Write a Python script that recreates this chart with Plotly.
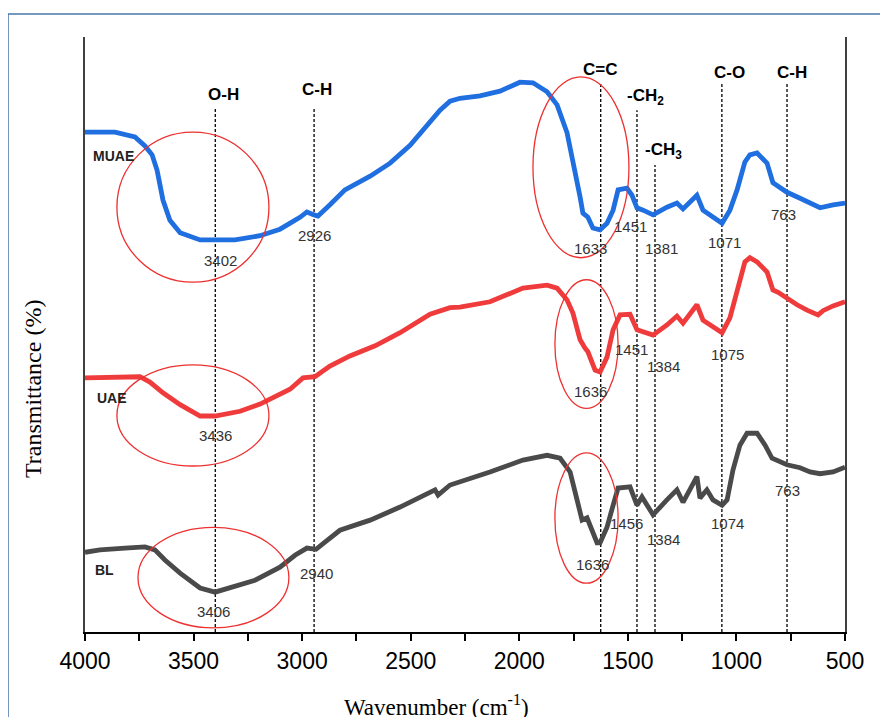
import plotly.graph_objects as go

# ---------------- data ----------------
muae_wn = [4000, 3862, 3770, 3724, 3691, 3668, 3641, 3609, 3562, 3470, 3401, 3309, 3194, 3102,
           3010, 2978, 2945, 2927, 2872, 2803, 2687, 2595, 2503, 2411, 2365, 2319, 2273, 2181,
           2089, 1997, 1937, 1872, 1826, 1780, 1753, 1720, 1707, 1684, 1661, 1628, 1596, 1568,
           1545, 1504, 1481, 1458, 1430, 1384, 1320, 1274, 1246, 1182, 1154, 1108, 1066, 1030,
           997, 961, 938, 905, 859, 832, 799, 767, 707, 615, 555, 500]
muae_t = [84.0, 84.0, 83.2, 81.7, 80.2, 77.6, 72.6, 69.2, 67.1, 65.9, 65.9, 65.9, 66.6, 67.7,
          69.7, 70.6, 70.1, 69.9, 71.8, 74.3, 76.6, 78.8, 81.8, 85.7, 87.7, 89.2, 89.7, 90.1,
          90.9, 92.4, 92.3, 90.8, 88.6, 83.9, 79.3, 73.1, 70.4, 69.7, 67.9, 67.6, 68.7, 70.9,
          74.3, 74.6, 73.4, 71.3, 70.9, 70.1, 71.4, 72.1, 71.1, 73.4, 70.9, 69.7, 68.7, 70.9,
          74.3, 79.0, 80.2, 80.5, 78.8, 75.5, 74.8, 73.9, 72.9, 71.3, 71.8, 72.1]

uae_wn = [4000, 3862, 3747, 3701, 3641, 3562, 3470, 3401, 3286, 3194, 3056, 2996, 2941, 2872,
          2780, 2664, 2549, 2411, 2319, 2273, 2135, 1983, 1872, 1826, 1780, 1753, 1720, 1697,
          1684, 1651, 1628, 1596, 1568, 1536, 1490, 1458, 1430, 1384, 1320, 1274, 1246, 1182,
          1154, 1108, 1066, 1030, 997, 961, 938, 905, 859, 832, 808, 767, 721, 675, 624, 601,
          555, 500]
uae_t = [42.7, 42.7, 42.9, 42.0, 40.2, 38.2, 36.3, 36.3, 37.1, 38.3, 40.8, 42.7, 42.9, 44.7,
         46.4, 48.1, 50.3, 53.4, 54.5, 54.6, 55.5, 57.8, 58.3, 57.8, 55.8, 53.6, 49.1, 47.7,
         47.1, 44.0, 43.7, 46.2, 50.8, 53.3, 53.4, 50.8, 50.4, 49.9, 51.6, 53.1, 51.9, 55.0,
         52.4, 51.3, 50.3, 52.8, 57.5, 62.2, 62.9, 62.2, 60.5, 57.5, 57.1, 56.0, 55.0, 54.1,
         53.3, 54.0, 54.8, 55.5]

bl_wn = [4000, 3931, 3816, 3724, 3678, 3632, 3562, 3470, 3401, 3309, 3217, 3102, 3033, 2978,
         2936, 2895, 2826, 2687, 2549, 2388, 2374, 2319, 2273, 2135, 1983, 1872, 1812, 1766,
         1734, 1711, 1688, 1665, 1642, 1628, 1596, 1568, 1545, 1490, 1458, 1435, 1407, 1384,
         1320, 1274, 1246, 1182, 1168, 1136, 1108, 1066, 1043, 1016, 984, 951, 905, 868, 836,
         813, 767, 707, 661, 615, 555, 500]
bl_t = [13.4, 13.8, 14.1, 14.3, 13.8, 12.1, 9.9, 7.4, 6.7, 7.6, 8.7, 10.9, 12.9, 14.1,
        13.9, 15.1, 17.1, 18.8, 21.0, 23.9, 23.0, 24.7, 25.2, 26.9, 28.9, 29.7, 29.2, 26.9,
        22.2, 18.8, 19.2, 17.1, 15.0, 15.0, 17.6, 21.3, 24.2, 24.4, 21.3, 22.7, 21.0, 19.7,
        22.2, 23.9, 21.8, 26.1, 22.5, 23.9, 22.2, 21.3, 22.2, 27.2, 31.4, 33.4, 33.4, 31.4, 29.2,
        28.9, 28.1, 27.6, 26.9, 26.6, 26.9, 27.7]

series_names = ["MUAE", "UAE", "BL"]
series_colors = ["#1f6fe0", "#ef3b3b", "#4a4a4a"]

# band markers: label, wavenumber of dashed line, top of line, label position
band_labels = ["O-H", "C-H", "C=C", "-CH<sub>2</sub>", "-CH<sub>3</sub>", "C-O", "C-H"]
band_wn = [3400, 2945, 1625, 1458, 1375, 1067, 767]
band_top = [88.1, 88.2, 92.3, 87.7, 78.5, 92.3, 92.4]
band_label_wn = [3360, 2932, 1628, 1421, 1338, 1030, 744]
band_label_t = [90.4, 91.1, 94.5, 89.9, 80.8, 94.1, 94.1]

# peak labels
peak_text = ["3402", "2926", "1633", "1451", "1381", "1071", "763",
             "3436", "1636", "1451", "1384", "1075",
             "3406", "2940", "1636", "1456", "1384", "1074", "763"]
peak_wn = [3378, 2945, 1670, 1490, 1343, 1057, 781,
           3397, 1674, 1481, 1334, 1043,
           3406, 2932, 1665, 1504, 1334, 1039, 763]
peak_t = [62.5, 66.6, 64.4, 68.2, 64.4, 65.5, 70.1,
          33.1, 40.5, 47.4, 44.7, 46.7,
          3.5, 9.9, 11.3, 18.2, 15.5, 18.2, 23.7]

# series name labels
name_wn = [3871, 3876, 3908]
name_t = [80.0, 39.3, 10.4]

# red highlight ellipses (wn0, wn1, t0, t1)
ell_wn0 = [3853, 1937, 3853, 1836, 3756, 1836]
ell_wn1 = [3153, 1495, 3153, 1545, 3061, 1545]
ell_t0 = [58.8, 62.9, 27.9, 37.6, 0.7, 8.2]
ell_t1 = [84.0, 93.3, 44.9, 59.2, 17.6, 30.1]

x_ticks = [4000, 3500, 3000, 2500, 2000, 1500, 1000, 500]

# ---------------- figure ----------------
fig = go.Figure()
for name, wn, t, col in zip(series_names, [muae_wn, uae_wn, bl_wn], [muae_t, uae_t, bl_t], series_colors):
    fig.add_trace(go.Scatter(x=wn, y=t, mode="lines", name=name,
                             line=dict(color=col, width=4.8), hoverinfo="skip"))

shapes = []
for wn, top in zip(band_wn, band_top):
    shapes.append(dict(type="line", xref="x", yref="y", x0=wn, x1=wn, y0=0, y1=top,
                       line=dict(color="black", width=1.3, dash="3px,2px"), layer="below"))
for a0, a1, b0, b1 in zip(ell_wn0, ell_wn1, ell_t0, ell_t1):
    shapes.append(dict(type="circle", xref="x", yref="y", x0=a0, x1=a1, y0=b0, y1=b1,
                       line=dict(color="#ee3030", width=1.3), fillcolor="rgba(0,0,0,0)"))
# outer frame (top and left edge of the chart box)
frame_col = "#4a76a8"
shapes.append(dict(type="line", xref="paper", yref="paper", x0=-0.1013, x1=1.06,
                   y0=1.0387, y1=1.0387, line=dict(color=frame_col, width=1.5)))
shapes.append(dict(type="line", xref="paper", yref="paper", x0=-0.1013, x1=-0.1013,
                   y0=-0.15, y1=1.0387, line=dict(color=frame_col, width=1.5)))

annotations = []
for lab, wn, t in zip(band_labels, band_label_wn, band_label_t):
    annotations.append(dict(x=wn, y=t, xref="x", yref="y", text="<b>" + lab + "</b>",
                            showarrow=False,
                            font=dict(family="Liberation Sans, Arial", size=17, color="black")))
for lab, wn, t in zip(peak_text, peak_wn, peak_t):
    annotations.append(dict(x=wn, y=t, xref="x", yref="y", text=lab, showarrow=False,
                            font=dict(family="Liberation Sans, Arial", size=15, color="#333333")))
for lab, wn, t in zip(series_names, name_wn, name_t):
    annotations.append(dict(x=wn, y=t, xref="x", yref="y", text="<b>" + lab + "</b>",
                            showarrow=False,
                            font=dict(family="Liberation Sans, Arial", size=14, color="#222222")))
annotations.append(dict(x=-0.0684, y=0.4084, xref="paper", yref="paper", text="Transmittance (%)",
                        textangle=-90, showarrow=False, xanchor="center", yanchor="middle",
                        font=dict(family="Liberation Serif, Times New Roman", size=24, color="black")))
annotations.append(dict(x=0.463, y=-0.1227, xref="paper", yref="paper",
                        text="Wavenumber (cm<sup>-1</sup>)", showarrow=False,
                        xanchor="center", yanchor="middle",
                        font=dict(family="Liberation Serif, Times New Roman", size=23, color="black")))

# the page body adds an 8px offset, so the figure is sized to fit the window
fig.update_layout(
    width=880, height=709,
    margin=dict(l=77, r=43, t=29, b=85),
    paper_bgcolor="white", plot_bgcolor="white",
    showlegend=False,
    shapes=shapes, annotations=annotations,
    xaxis=dict(range=[4000, 500], tickvals=x_ticks, ticks="outside", ticklen=7, tickwidth=1.5,
               tickcolor="black", showline=True, linecolor="black", linewidth=2.2,
               showgrid=False, zeroline=False,
               tickfont=dict(family="Liberation Sans, Arial", size=23, color="black"),
               minor=dict(dtick=250, ticks="outside", ticklen=7, tickwidth=1.5, tickcolor="black",
                          showgrid=False)),
    yaxis=dict(range=[0, 100], showticklabels=False, ticks="", showline=True, mirror=True,
               linecolor="#404040", linewidth=1.5, showgrid=False, zeroline=False),
)

fig.write_html("out.html")
